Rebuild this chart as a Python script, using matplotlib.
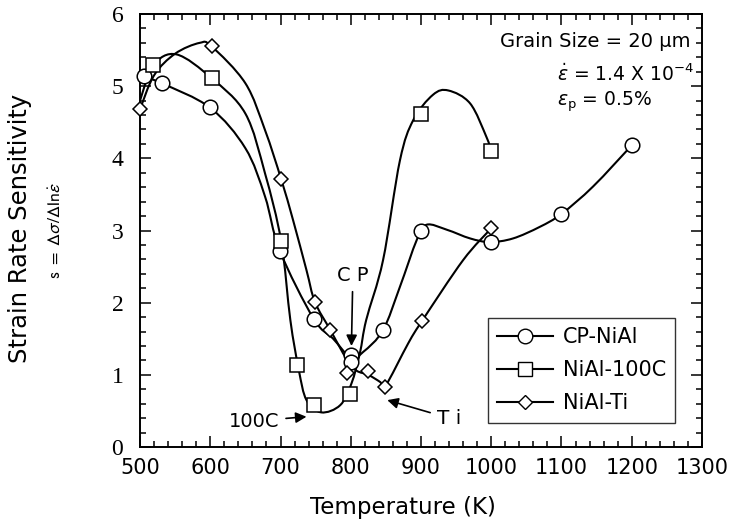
import numpy as np
import matplotlib
matplotlib.use('Agg')
import matplotlib.pyplot as plt
from matplotlib.path import Path
from matplotlib.patches import PathPatch
from matplotlib.lines import Line2D
from matplotlib.ticker import MultipleLocator

plt.rcParams['font.family'] = ['DejaVu Sans']
plt.rcParams['mathtext.fontset'] = 'dejavusans'

# measured points (markers)
cp_T = [505, 531, 600, 699, 747, 800, 800, 846, 900, 1000, 1100, 1200]
cp_s = [5.14, 5.04, 4.71, 2.72, 1.78, 1.27, 1.18, 1.62, 3.00, 2.84, 3.23, 4.18]

c100_T = [519, 602, 701, 724, 748, 799, 900, 1000]
c100_s = [5.29, 5.11, 2.85, 1.13, 0.58, 0.73, 4.62, 4.10]

ti_T = [500, 602, 701, 749, 771, 794, 825, 849, 901, 1000]
ti_s = [4.68, 5.55, 3.71, 2.01, 1.62, 1.03, 1.06, 0.83, 1.74, 3.03]

# hand-drawn fit curves, knots
cp_fit_T = [500, 531, 600, 650, 678, 699, 747, 775, 800, 818, 846, 870, 894, 908,
            937, 970, 998, 1031, 1069, 1100, 1145, 1200]
cp_fit_s = [5.15, 5.04, 4.70, 4.14, 3.47, 2.72, 1.78, 1.50, 1.24, 1.32, 1.62, 2.22,
            2.87, 3.08, 3.01, 2.89, 2.84, 2.89, 3.05, 3.23, 3.61, 4.18]

c100_fit_T = [500, 519, 552, 602, 650, 678, 701, 714, 726, 737, 758, 785, 801, 813,
              822, 846, 870, 889, 917, 939, 970, 993, 1000]
c100_fit_s = [4.80, 5.29, 5.44, 5.11, 4.62, 3.79, 2.85, 1.76, 1.07, 0.65, 0.48, 0.58,
              0.88, 1.30, 1.76, 2.59, 3.97, 4.53, 4.88, 4.94, 4.76, 4.30, 4.10]

ti_fit_T = [500, 520, 550, 585, 602, 650, 678, 701, 718, 737, 749, 771, 794, 808,
            825, 842, 849, 882, 901, 960, 1000]
ti_fit_s = [4.68, 5.15, 5.45, 5.60, 5.55, 5.04, 4.39, 3.71, 3.14, 2.45, 2.01, 1.62,
            1.22, 1.06, 1.00, 0.90, 0.84, 1.44, 1.74, 2.59, 3.03]

y_ticks = [0, 1, 2, 3, 4, 5, 6]
y_ticklabels = ['0', '1', '2', '3', '4', '5', '6']


def smooth_path(xs, ys):
    # Catmull-Rom through the knots, drawn as cubic Bezier segments
    p = np.column_stack([xs, ys]).astype(float)
    p_ext = np.vstack([p[0], p, p[-1]])
    verts = [p[0]]
    codes = [Path.MOVETO]
    for i in range(1, len(p_ext) - 2):
        p0, p1, p2, p3 = p_ext[i - 1], p_ext[i], p_ext[i + 1], p_ext[i + 2]
        verts += [p1 + (p2 - p0) / 6, p2 - (p3 - p1) / 6, p2]
        codes += [Path.CURVE4] * 3
    return Path(verts, codes)


fig = plt.figure(figsize=(7.3, 5.24), dpi=100)
ax = fig.add_axes([0.1918, 0.1469, 0.7698, 0.8264])

lw = 1.5
for fx, fy in [(cp_fit_T, cp_fit_s), (c100_fit_T, c100_fit_s), (ti_fit_T, ti_fit_s)]:
    ax.add_patch(PathPatch(smooth_path(fx, fy), fill=False, edgecolor='black', lw=lw,
                           capstyle='round', joinstyle='round', zorder=2))

mk = dict(linestyle='none', markerfacecolor='white', markeredgecolor='black',
          markeredgewidth=1.1, zorder=3, clip_on=False)
ax.plot(cp_T, cp_s, marker='o', markersize=10.5, **mk)
ax.plot(c100_T, c100_s, marker='s', markersize=10.5, **mk)
ax.plot(ti_T, ti_s, marker='D', markersize=7.5, **mk)

ax.set_xlim(500, 1300)
ax.set_ylim(0, 6)
ax.xaxis.set_major_locator(MultipleLocator(100))
ax.xaxis.set_minor_locator(MultipleLocator(20))
ax.set_yticks(y_ticks)
ax.set_yticklabels(y_ticklabels, fontfamily='Liberation Serif', fontsize=17)
ax.yaxis.set_minor_locator(MultipleLocator(0.2))
ax.tick_params(which='both', direction='in', top=True, right=True, width=1.1, color='black')
ax.tick_params(which='major', length=8)
ax.tick_params(which='minor', length=4)
ax.tick_params(axis='x', labelsize=15, pad=8)
ax.tick_params(axis='y', pad=12)
for sp in ax.spines.values():
    sp.set_linewidth(1.4)

# annotations
arr = dict(arrowstyle='-|>', color='black', lw=1.2, mutation_scale=16, shrinkA=3, shrinkB=0)
ax.annotate('C P', xy=(801, 1.40), xytext=(803, 2.38), ha='center', va='center',
            fontsize=14, arrowprops=arr)
ax.annotate('100C', xy=(737, 0.42), xytext=(662, 0.36), ha='center', va='center',
            fontsize=14, arrowprops=arr)
ax.annotate('T i', xy=(852, 0.65), xytext=(940, 0.40), ha='center', va='center',
            fontsize=14.5, arrowprops=arr)

ax.text(1283, 5.62, 'Grain Size = 20 μm', ha='right', va='center', fontsize=14)
ax.text(1094, 5.17, r'$\dot{\varepsilon}$ = 1.4 X 10$^{-4}$', ha='left', va='center',
        fontsize=13.5)
ax.text(1094, 4.78, r'$\varepsilon_{\rm p}$ = 0.5%', ha='left', va='center', fontsize=13.5)

handles = [
    Line2D([], [], color='black', lw=lw, marker='o', markersize=10.5,
           markerfacecolor='white', markeredgecolor='black'),
    Line2D([], [], color='black', lw=lw, marker='s', markersize=10.5,
           markerfacecolor='white', markeredgecolor='black'),
    Line2D([], [], color='black', lw=lw, marker='D', markersize=7.5,
           markerfacecolor='white', markeredgecolor='black'),
]
leg = ax.legend(handles, ['CP-NiAl', 'NiAl-100C', 'NiAl-Ti'], loc='upper left',
                bbox_to_anchor=(0.619, 0.298), fontsize=15, frameon=True, fancybox=False,
                edgecolor='black', handlelength=2.7, handletextpad=0.45, borderpad=0.45,
                labelspacing=0.62, borderaxespad=0)
leg.get_frame().set_linewidth(1.0)

fig.text(0.552, 0.032, 'Temperature (K)', ha='center', va='center', fontsize=16.5)
fig.text(0.028, 0.565, 'Strain Rate Sensitivity', rotation=90, ha='center', va='center',
         fontsize=17.5)
fig.text(0.077, 0.56, r'$\mathrm{s\ =\ }\Delta\sigma/\Delta\mathrm{ln}\dot{\varepsilon}$',
         rotation=90, ha='center', va='center', fontsize=13, math_fontfamily='stixsans')

fig.savefig('out.png', dpi=100)
